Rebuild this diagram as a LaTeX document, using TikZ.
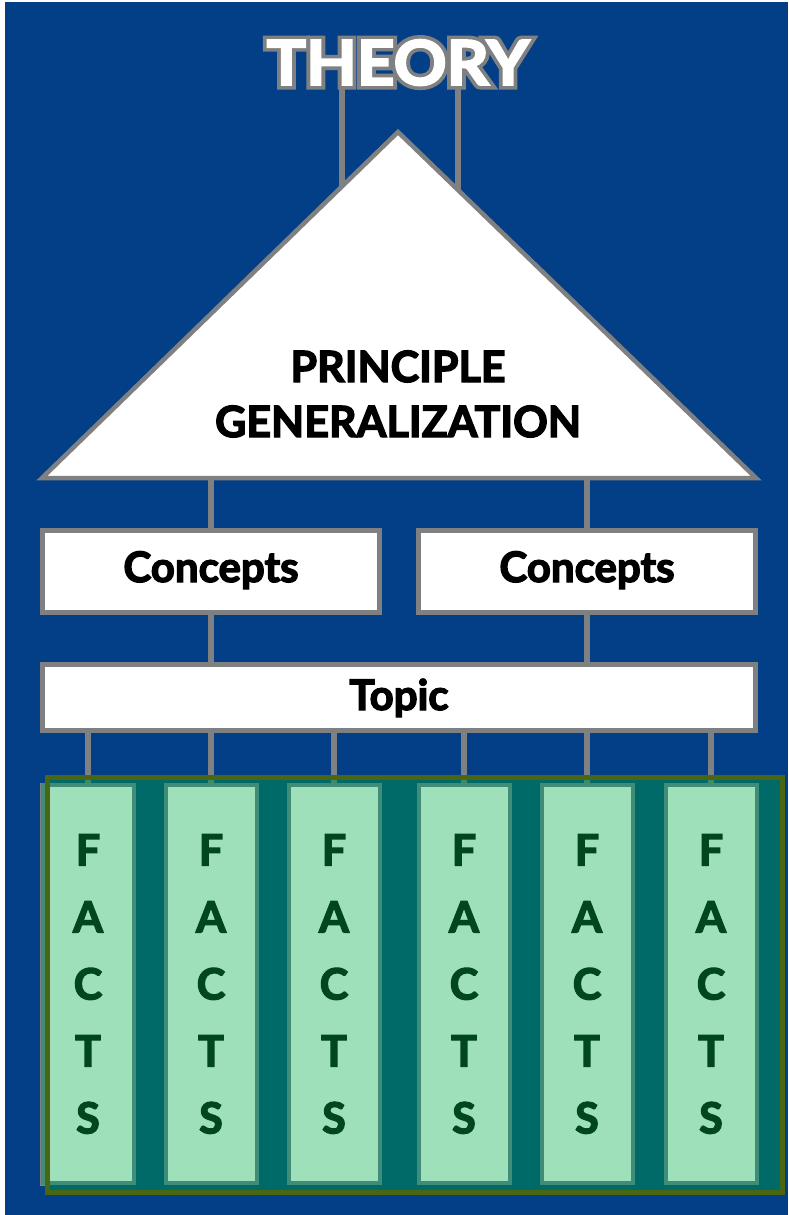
\documentclass[tikz,border=0pt]{standalone}
\usepackage{fontspec}
\setmainfont{Lato}
% heavy faces: Lato Bold thickened by stroking the glyphs
\newfontfamily\heavy{Lato}[BoldFeatures={FakeBold=3.2}]
\newfontfamily\titlerim{Lato}[BoldFeatures={FakeBold=15}]
\definecolor{bgblue}{HTML}{023F86}
\definecolor{linegrey}{HTML}{7F8082}
\definecolor{factfill}{HTML}{9DE0BA}
\definecolor{colborder}{HTML}{3F8C78}
\definecolor{factink}{HTML}{00461F}
\definecolor{olive}{HTML}{4B6612}
\definecolor{tealmix}{HTML}{00954E}
\pgfdeclarelayer{back}
\pgfdeclarelayer{links}
\pgfsetlayers{back,links,main}
\begin{document}
\begin{tikzpicture}[x=1pt,y=-1pt,
  link/.style={draw=linegrey,line width=6pt},
  whitebox/.style={draw=linegrey,line width=5pt,fill=white,inner sep=0pt},
  boxlabel/.style={anchor=base,inner sep=0pt,font=\fontsize{42}{42}\heavy\bfseries,text=black},
  headline/.style={anchor=base,inner sep=0pt,font=\fontsize{43}{43}\heavy\bfseries,text=black},
  factcol/.style={draw=colborder,line width=4pt,fill=factfill,minimum width=91pt,
    minimum height=398pt,inner sep=0pt,align=center,text=factink,
    font=\fontsize{43}{67}\heavy\bfseries},
]
\useasboundingbox (0,0) rectangle (788,1215);

% page and backdrop
\begin{pgfonlayer}{back}
  \fill[white] (0,0) rectangle (788,1215);
  \fill[bgblue] (5,2) rectangle (788,1215);
\end{pgfonlayer}

% outlined title: a thick grey stroke under the white letters
\node[anchor=base,inner sep=0pt,text=linegrey,font=\fontsize{62}{62}\titlerim\bfseries]
  (theoryrim) at (398,85) {\scalebox{1.06}[1]{THEORY}};
\node[anchor=base,inner sep=0pt,text=white,font=\fontsize{62}{62}\heavy\bfseries]
  (theory) at (398,85) {\scalebox{1.06}[1]{THEORY}};

% principle triangle
\coordinate (triL) at (42,478);
\coordinate (triR) at (756,478);
\coordinate (triA) at (398,132);
\draw[linegrey,line width=4.5pt,fill=white] (triL) -- (triA) -- (triR) -- cycle;
\node[headline] (principle) at (398,382) {PRINCIPLE};
\node[headline] (general) at (398,437) {GENERALIZATION};

% where the title posts disappear under the triangle
\coordinate (postL) at (342,220);
\coordinate (postR) at (458,220);
\coordinate (baseL) at (211,478);
\coordinate (baseR) at (587,478);

% concepts and topic
\node[whitebox,minimum width=337pt,minimum height=82pt] (conL) at (211,571.5) {};
\node[whitebox,minimum width=337pt,minimum height=82pt] (conR) at (587,571.5) {};
\node[boxlabel] (conLtxt) at (211,582) {Concepts};
\node[boxlabel] (conRtxt) at (587,582) {Concepts};
\node[whitebox,minimum width=713pt,minimum height=66pt] (topic) at (399,697.5) {};
\node[boxlabel] (topictxt) at (399,710) {Topic};

% facts panel: tinted backing, the six columns, then the frame on top
\node[fill=tealmix,fill opacity=0.5,minimum width=735pt,minimum height=415pt,
  inner sep=0pt,outer sep=0pt] (panel) at (415,985) {};
\foreach \i/\x in {1/88,2/211,3/334,4/464,5/587,6/711}
  \node[factcol] (f\i) at (\x,984) {F\\A\\C\\T\\S};
\draw[olive,line width=5pt] (panel.north west) rectangle (panel.south east);

% connectors
\begin{pgfonlayer}{links}
  \draw[link] (theory.south -| postL) -- (postL);
  \draw[link] (theory.south -| postR) -- (postR);
  \draw[link] (baseL) -- (conL.north);
  \draw[link] (baseR) -- (conR.north);
  \draw[link] (conL.south) -- (topic.north -| conL.south);
  \draw[link] (conR.south) -- (topic.north -| conR.south);
  \foreach \i in {1,...,6}
    \draw[link] (topic.south -| f\i.north) -- (f\i.north);
  \draw[linegrey,line width=3pt] ([xshift=1pt]f1.north west) |- ([xshift=8pt,yshift=1pt]f1.south west);
\end{pgfonlayer}
\end{tikzpicture}
\end{document}
